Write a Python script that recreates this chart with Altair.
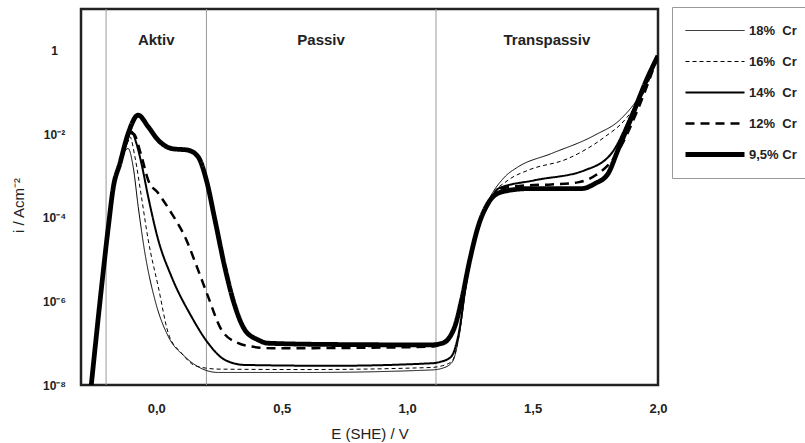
import altair as alt
import pandas as pd

FONT = "Liberation Sans"

series_names = ["18%\u00a0 Cr", "16%\u00a0 Cr", "14%\u00a0 Cr", "12%\u00a0 Cr", "9,5% Cr"]
series_dash = [[1, 0], [4, 3], [1, 0], [9, 6], [1, 0]]
series_width = [1, 1, 2, 2.5, 4.8]

# potential (V vs SHE) and log10 of current density (A/cm^2)
E_18 = [-0.259, -0.218, -0.191, -0.171, -0.145, -0.125, -0.112, -0.092, -0.072, -0.045, -0.005, 0.048, 0.114, 0.194, 0.247, 0.6, 1.097, 1.14, 1.18, 1.205, 1.24, 1.283, 1.323, 1.389, 1.442, 1.575, 1.748, 1.854, 1.947, 2.0]
L_18 = [-8, -5.65, -4.21, -3.26, -2.75, -2.4, -2.34, -2.78, -3.73, -4.85, -5.97, -6.84, -7.32, -7.64, -7.7, -7.7, -7.64, -7.6, -7.45, -6.9, -5.4, -4.21, -3.6, -3.02, -2.78, -2.46, -2.02, -1.62, -0.86, -0.12]

E_16 = [-0.259, -0.218, -0.191, -0.171, -0.145, -0.12, -0.105, -0.085, -0.059, -0.032, 0.008, 0.048, 0.101, 0.16, 0.25, 0.6, 1.097, 1.14, 1.18, 1.205, 1.24, 1.283, 1.323, 1.402, 1.482, 1.641, 1.788, 1.867, 1.96, 2.0]
L_16 = [-8, -5.65, -4.21, -3.26, -2.7, -2.15, -2.06, -2.54, -3.5, -4.53, -5.65, -6.76, -7.24, -7.55, -7.62, -7.63, -7.58, -7.54, -7.42, -6.88, -5.4, -4.21, -3.6, -3.1, -2.86, -2.58, -2.06, -1.66, -0.78, -0.12]

E_14 = [-0.259, -0.218, -0.191, -0.171, -0.145, -0.118, -0.098, -0.08, -0.059, -0.032, 0.008, 0.061, 0.141, 0.207, 0.274, 0.353, 0.7, 1.097, 1.13, 1.176, 1.203, 1.24, 1.283, 1.323, 1.363, 1.508, 1.708, 1.814, 1.907, 2.0]
L_14 = [-8, -5.65, -4.21, -3.26, -2.7, -2.15, -1.94, -2.2, -2.7, -3.5, -4.53, -5.41, -6.37, -7.0, -7.4, -7.52, -7.54, -7.48, -7.45, -7.32, -6.84, -5.4, -4.21, -3.7, -3.3, -3.1, -2.86, -2.46, -1.34, -0.12]

E_12 = [-0.259, -0.218, -0.191, -0.171, -0.145, -0.118, -0.092, -0.06, -0.032, 0.008, 0.061, 0.114, 0.167, 0.207, 0.26, 0.327, 0.38, 0.46, 0.8, 1.1, 1.14, 1.17, 1.19, 1.217, 1.25, 1.283, 1.323, 1.376, 1.482, 1.575, 1.68, 1.761, 1.814, 1.86, 1.92, 2.0]
L_12 = [-8, -5.65, -4.21, -3.26, -2.7, -2.2, -1.98, -2.5, -3.1, -3.41, -3.89, -4.45, -5.25, -5.89, -6.68, -7.0, -7.08, -7.12, -7.11, -7.08, -7.0, -6.85, -6.6, -5.97, -5.0, -4.21, -3.65, -3.3, -3.22, -3.2, -3.15, -2.94, -2.65, -2.2, -1.4, -0.12]

E_95 = [-0.259, -0.218, -0.191, -0.171, -0.145, -0.112, -0.072, -0.032, 0.008, 0.061, 0.127, 0.167, 0.2, 0.234, 0.274, 0.313, 0.353, 0.406, 0.446, 0.7, 1.096, 1.14, 1.17, 1.19, 1.217, 1.25, 1.283, 1.323, 1.376, 1.482, 1.695, 1.748, 1.8, 1.84, 1.894, 1.96, 2.0]
L_95 = [-8, -5.65, -4.21, -3.26, -2.7, -1.98, -1.54, -1.82, -2.14, -2.34, -2.38, -2.54, -3.1, -4.05, -5.2, -6.1, -6.68, -6.92, -7.0, -7.03, -7.04, -7.0, -6.85, -6.6, -5.97, -5.0, -4.21, -3.65, -3.38, -3.3, -3.3, -3.18, -2.95, -2.38, -1.6, -0.62, -0.12]

region_bounds = [-0.2, 0.2, 1.115]
region_names = ["Aktiv", "Passiv", "Transpassiv"]
region_centers = [0.0, 0.657, 1.557]
region_label_i = 1.78

x_ticks = [0.0, 0.5, 1.0, 1.5, 2.0]
y_ticks = [1e-8, 1e-6, 1e-4, 1e-2, 1]

rows = []
for name, Es, Ls in zip(series_names, [E_18, E_16, E_14, E_12, E_95], [L_18, L_16, L_14, L_12, L_95]):
    for e, l in zip(Es, Ls):
        rows.append({"series": name, "E": e, "i": 10 ** l})
df = pd.DataFrame(rows)

rules_df = pd.DataFrame({"E": region_bounds})
text_df = pd.DataFrame({"E": region_centers, "i": [region_label_i] * 3, "name": region_names})

x_enc = alt.X(
    "E:Q",
    scale=alt.Scale(domain=[-0.3, 2.0], nice=False, zero=False),
    axis=alt.Axis(
        values=x_ticks,
        labelExpr="replace(format(datum.value, '.1f'), '.', ',')",
        title="E (SHE) / V",
        domain=False, ticks=False, tickSize=0, grid=False,
        labelFont=FONT, labelFontWeight="bold", labelFontSize=13, labelColor="#222",
        labelPadding=17, labelFlush=False, labelOverlap=False,
        titleFont=FONT, titleFontWeight="normal", titleFontSize=15, titleColor="#222",
        titleY=48, titleBaseline="middle",
    ),
)
y_enc = alt.Y(
    "i:Q",
    scale=alt.Scale(type="log", domain=[1e-8, 10], nice=False),
    axis=alt.Axis(
        values=y_ticks,
        labelExpr="datum.value >= 0.5 ? '1' : datum.value >= 0.005 ? '10⁻²' : datum.value >= 0.00005 ? '10⁻⁴' : datum.value >= 0.0000005 ? '10⁻⁶' : '10⁻⁸'",
        title="i / Acm⁻²",
        domain=False, ticks=False, tickSize=0, grid=False,
        labelFont=FONT, labelFontWeight="bold", labelFontSize=12, labelColor="#222",
        labelAlign="center", labelPadding=27, labelOverlap=False,
        titleFont=FONT, titleFontWeight="normal", titleFontSize=15, titleColor="#222",
        titleX=-63, titleY=196, titleAngle=270, titleAlign="center", titleBaseline="middle",
    ),
)

legend_kw = dict(
    title=None,
    orient="none",
    legendX=591,
    legendY=-2,
    padding=11,
    columns=1,
    strokeColor="#999",
    fillColor="white",
    symbolType="stroke",
    symbolSize=3481,
    symbolStrokeColor="black",
    labelFont=FONT,
    labelFontWeight="bold",
    labelFontSize=13,
    labelColor="#222",
    labelOffset=2,
    labelAlign="left",
    clipHeight=25,
    rowPadding=6,
    labelLimit=200,
)

rules = alt.Chart(rules_df).mark_rule(color="#999", strokeWidth=1).encode(x=x_enc)

lines = alt.Chart(df).mark_line(interpolate="monotone", color="black", clip=True).encode(
    x=x_enc,
    y=y_enc,
    strokeDash=alt.StrokeDash(
        "series:N",
        scale=alt.Scale(domain=series_names, range=series_dash),
        legend=alt.Legend(**legend_kw),
    ),
    strokeWidth=alt.StrokeWidth(
        "series:N",
        scale=alt.Scale(type="ordinal", domain=series_names, range=series_width),
        legend=alt.Legend(**legend_kw),
    ),
)

labels = alt.Chart(text_df).mark_text(
    font=FONT, fontWeight="bold", fontSize=15, color="#222", baseline="middle", align="center"
).encode(x=x_enc, y=y_enc, text="name:N")

chart = (
    alt.layer(rules, lines, labels)
    .properties(
        width=577,
        height=376,
        padding={"left": 81, "top": 9, "right": 147, "bottom": 58},
        autosize="none",
        background="white",
    )
    .configure_view(stroke="#222", strokeWidth=2.5)
)

chart.save("out.html", embed_options={"renderer": "svg", "actions": False})
